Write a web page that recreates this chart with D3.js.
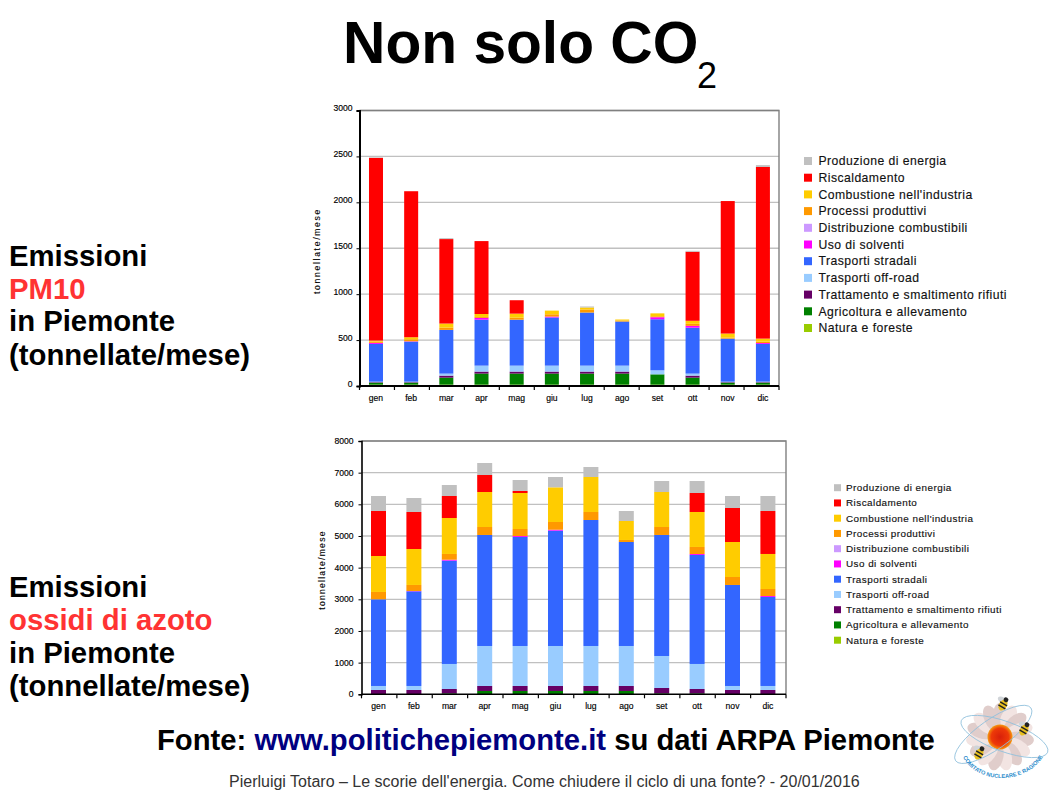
<!DOCTYPE html>
<html><head><meta charset="utf-8">
<script src="https://cdn.jsdelivr.net/npm/d3@7/dist/d3.min.js"></script>
<style>
html,body{margin:0;padding:0;background:#fff;}
svg{display:block;font-family:"Liberation Sans",Arial,sans-serif;}
</style></head><body>
<svg id="c" width="1058" height="794"></svg>
<script>
const months = ["gen","feb","mar","apr","mag","giu","lug","ago","set","ott","nov","dic"];
const seriesNames = ["Natura e foreste","Agricoltura e allevamento","Trattamento e smaltimento rifiuti","Trasporti off-road","Trasporti stradali","Uso di solventi","Distribuzione combustibili","Processi produttivi","Combustione nell'industria","Riscaldamento","Produzione di energia"];
const seriesColors = ["#99cc00","#008000","#660066","#99ccff","#3366ff","#ff00ff","#cc99ff","#ff9900","#ffcc00","#ff0000","#c0c0c0"];

// PM10 (tonnellate/mese)
const pmNatura = [15,15,15,15,15,15,15,15,15,15,15,15];
const pmAgricoltura = [22,22,76,120,120,120,120,120,112,76,22,22];
const pmTrattamento = [5,5,22,22,22,22,22,22,0,22,5,5];
const pmOffroad = [5,5,22,65,65,65,65,65,44,22,5,5];
const pmStradali = [411,436,476,500,500,524,578,480,556,500,469,411];
const pmSolventi = [12,4,0,20,0,10,0,0,22,20,0,10];
const pmDistribuzione = [0,0,0,0,0,0,0,0,0,0,0,0];
const pmProcessi = [15,22,25,10,22,25,33,11,10,22,11,15];
const pmCombustione = [10,22,44,32,44,40,22,11,32,33,44,33];
const pmRiscaldamento = [1989,1590,920,794,146,0,0,0,0,752,1443,1869];
const pmProduzione = [5,0,10,0,0,0,11,0,0,10,0,20];

// Ossidi di azoto (tonnellate/mese)
const noxNatura = [0,0,0,0,0,0,0,0,0,0,0,0];
const noxAgricoltura = [0,0,30,105,105,105,105,105,30,30,0,0];
const noxTrattamento = [137,137,138,158,158,158,158,158,170,138,137,137];
const noxOffroad = [126,126,790,1263,1263,1263,1263,1263,1010,790,126,126];
const noxStradali = [2737,2990,3263,3506,3442,3642,3979,3284,3822,3442,3190,2811];
const noxSolventi = [0,10,30,0,30,30,0,0,0,30,0,30];
const noxDistribuzione = [0,0,0,0,0,0,0,0,0,0,0,0];
const noxProcessi = [232,190,181,252,223,244,253,64,252,223,252,222];
const noxCombustione = [1136,1136,1136,1105,1137,1095,1105,600,1105,1105,1105,1106];
const noxRiscaldamento = [1421,1169,695,537,63,0,0,0,0,600,1074,1357];
const noxProduzione = [474,442,347,379,347,326,316,315,348,379,379,474];

const pmTicks = [0,500,1000,1500,2000,2500,3000];
const noxTicks = [0,1000,2000,3000,4000,5000,6000,7000,8000];
const pmSeries = [pmNatura,pmAgricoltura,pmTrattamento,pmOffroad,pmStradali,pmSolventi,pmDistribuzione,pmProcessi,pmCombustione,pmRiscaldamento,pmProduzione];
const noxSeries = [noxNatura,noxAgricoltura,noxTrattamento,noxOffroad,noxStradali,noxSolventi,noxDistribuzione,noxProcessi,noxCombustione,noxRiscaldamento,noxProduzione];

const svg = d3.select("#c");

function chart(o){
  const g = svg.append("g");
  const x = d3.scaleBand().domain(months).range([o.bl,o.br]);
  const y = d3.scaleLinear().domain([0,o.max]).range([o.b,o.t]);
  const rows = months.map((m,i)=>{const r={m};seriesNames.forEach((s,j)=>r[s]=o.series[j][i]);return r;});
  const stacked = d3.stack().keys(seriesNames)(rows);
  g.append("g").selectAll("line").data(o.ticks.slice(1)).join("line")
    .attr("x1",o.l).attr("x2",o.r).attr("y1",d=>y(d)).attr("y2",d=>y(d))
    .attr("stroke","#c0c0c0").attr("stroke-width",1.3);
  g.append("path").attr("d",`M${o.l},${o.t}H${o.r}V${o.b}`).attr("fill","none").attr("stroke","#808080").attr("stroke-width",1.4);
  stacked.forEach((s,i)=>{
    g.append("g").attr("fill",seriesColors[i]).selectAll("rect").data(s).join("rect")
      .attr("x",d=>x(d.data.m)+x.bandwidth()/2-o.bw/2).attr("width",o.bw)
      .attr("y",d=>y(d[1])).attr("height",d=>Math.max(0,y(d[0])-y(d[1])));
  });
  const ay = g.append("g").attr("transform",`translate(${o.l},0)`)
    .call(d3.axisLeft(y).tickValues(o.ticks).tickSize(3).tickPadding(o.yPad).tickFormat(d3.format("d")));
  ay.select(".domain").attr("stroke","#000").attr("stroke-width",o.axw);
  ay.selectAll("text").attr("font-size",o.tf).attr("dy",o.tdy).attr("fill","#000").attr("stroke","#000").attr("stroke-width",0.15);
  const ax = g.append("g").attr("transform",`translate(0,${o.b})`)
    .call(d3.axisBottom(x).tickSize(0).tickPadding(o.xPad));
  ax.select(".domain").attr("stroke","#000").attr("stroke-width",o.axw).attr("d",`M${o.l},0H${o.r}`);
  ax.selectAll("text").attr("font-size",o.tf).attr("fill","#000").attr("stroke","#000").attr("stroke-width",0.15);
  g.append("g").selectAll("line").data(months.concat(["end"])).join("line")
    .attr("x1",(d,i)=>o.l+i*(o.r-o.l)/12).attr("x2",(d,i)=>o.l+i*(o.r-o.l)/12)
    .attr("y1",o.b).attr("y2",o.b+4).attr("stroke","#000").attr("stroke-width",1.2);
  g.append("text").attr("transform",`translate(${o.ytx},${o.yty}) rotate(-90)`)
    .attr("text-anchor","middle").attr("font-size",o.tf).attr("letter-spacing",o.yls).attr("stroke","#000").attr("stroke-width",0.1).text("tonnellate/mese");
  const lg = g.append("g");
  const order = seriesNames.map((n,i)=>({n,c:seriesColors[i]})).reverse();
  order.forEach((e,i)=>{
    const cy = o.ly+i*o.lstep;
    lg.append("rect").attr("x",o.lx).attr("y",cy-o.ls/2).attr("width",o.ls).attr("height",o.ls).attr("fill",e.c);
    lg.append("text").attr("x",o.ltx).attr("y",cy+o.lf*0.35).attr("font-size",o.lf).attr("letter-spacing",o.lls)
      .attr("fill","#111").attr("stroke","#111").attr("stroke-width",0.15).text(e.n);
  });
}
chart({series:pmSeries,ticks:pmTicks,max:3000,l:359.5,r:779,bl:358.4,br:780.5,t:110.5,b:386,bw:14,axw:2,tf:8.6,tdy:"0.05em",yPad:4,xPad:9,
  ytx:320,yty:251,yls:1.7,lx:804,ly:161,lstep:16.7,ls:8,ltx:818.5,lf:12.2,lls:0.45});
chart({series:noxSeries,ticks:noxTicks,max:8000,l:361.5,r:786,bl:360.8,br:785.6,t:441,b:694.3,bw:15,axw:1.6,tf:8.6,tdy:"0.3em",yPad:5,xPad:9,
  ytx:325,yty:570,yls:1.25,lx:834,ly:487.7,lstep:15.25,ls:7,ltx:846,lf:9.9,lls:0.46});

function t(x,y,s,size,weight,fill){return svg.append("text").attr("x",x).attr("y",y).attr("font-size",size).attr("font-weight",weight).attr("fill",fill||"#000").text(s);}
t(343,63,"Non solo CO",58.7,"bold");
t(697,88,"2",36,"normal");
const leftA=["Emissioni","PM10","in Piemonte","(tonnellate/mese)"], leftB=["Emissioni","ossidi di azoto","in Piemonte","(tonnellate/mese)"];
leftA.forEach((s,i)=>t(9,[266,299,331,365][i],s,29.3,"bold",i==1?"#ff3333":"#000"));
leftB.forEach((s,i)=>t(9,[597,630,663,696][i],s,29.3,"bold",i==1?"#ff3333":"#000"));
const f = t(157,750,"",29.26,"bold");
f.append("tspan").text("Fonte: ");
f.append("tspan").attr("fill","#000080").text("www.politichepiemonte.it");
f.append("tspan").text(" su dati ARPA Piemonte");
t(229,787,"Pierluigi Totaro – Le scorie dell'energia. Come chiudere il ciclo di una fonte? - 20/01/2016",16,"normal","#333");

const defs = svg.append("defs");
const rg = defs.append("radialGradient").attr("id","cen");
rg.append("stop").attr("offset","0%").attr("stop-color","#d8200a");
rg.append("stop").attr("offset","70%").attr("stop-color","#ee3a08");
rg.append("stop").attr("offset","100%").attr("stop-color","#f59a10");
const L = svg.append("g").attr("transform","translate(1000,737)");
const petalAngles = [0,24,48,72,96,120,144,168,192,216,240,264,288,312,336];
L.selectAll("ellipse.p").data(petalAngles).join("ellipse").attr("class","p")
  .attr("cx",0).attr("cy",-20).attr("rx",7.5).attr("ry",14)
  .attr("transform",d=>`rotate(${d})`).attr("fill",(d,i)=>i%2?"#f2e4e2":"#e0cdcb");
L.append("circle").attr("r",12.5).attr("fill","url(#cen)");
L.append("ellipse").attr("rx",46).attr("ry",15).attr("transform","rotate(-35) translate(-4,-6)").attr("fill","none").attr("stroke","#8fc0dc").attr("stroke-width",0.8);
L.append("ellipse").attr("rx",46).attr("ry",15).attr("transform","rotate(20) translate(4,-2)").attr("fill","none").attr("stroke","#8fc0dc").attr("stroke-width",0.8);
const bees = [[3,-32],[24,-7],[-21,17]];
bees.forEach(b=>{
  const h=L.append("g").attr("transform",`translate(${b[0]},${b[1]}) rotate(30)`);
  h.append("ellipse").attr("cx",-3).attr("cy",-4).attr("rx",5).attr("ry",3).attr("fill","#d0d4d8");
  h.append("ellipse").attr("rx",4).attr("ry",6).attr("fill","#e8c020");
  h.append("rect").attr("x",-4).attr("y",-2).attr("width",8).attr("height",1.5).attr("fill","#222");
  h.append("rect").attr("x",-4).attr("y",1.5).attr("width",8).attr("height",1.5).attr("fill","#222");
  h.append("circle").attr("cy",-6).attr("r",2.4).attr("fill","#222");
});
defs.append("path").attr("id","arcL").attr("d","M-37,20 C-24,48 30,50 46,14");
L.append("text").attr("font-size",5.6).attr("font-weight","bold").attr("fill","#2a8ccc")
  .append("textPath").attr("href","#arcL").text("COMITATO NUCLEARE E RAGIONE");
</script>
</body></html>
